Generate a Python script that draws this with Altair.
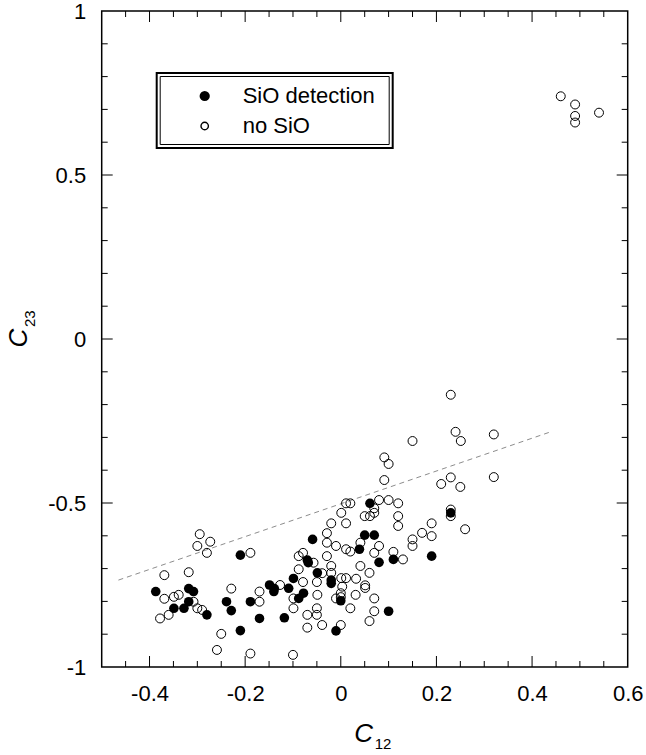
import altair as alt
import pandas as pd

# ---------------- data ----------------
sio_x = [0.23, 0.19, 0.11, 0.08, 0.061, 0.05, 0.07, 0.039, -0.059, -0.07,
         -0.068, -0.049, -0.099, -0.02, -0.02, 0.0, 0.10, -0.01, -0.118, -0.088,
         -0.078, -0.109, -0.387, -0.318, -0.308, -0.318, -0.349, -0.328, -0.28, -0.239,
         -0.229, -0.21, -0.21, -0.189, -0.17, -0.149, -0.139, -0.14]
sio_y = [-0.53, -0.662, -0.672, -0.681, -0.501, -0.598, -0.598, -0.641, -0.611, -0.674,
         -0.682, -0.713, -0.73, -0.735, -0.745, -0.798, -0.83, -0.89, -0.85, -0.791,
         -0.775, -0.76, -0.77, -0.761, -0.77, -0.801, -0.821, -0.821, -0.841, -0.801,
         -0.828, -0.889, -0.659, -0.801, -0.852, -0.75, -0.761, -0.77]

nosio_x = [0.46, 0.49, 0.49, 0.49, 0.54,
           0.23, 0.24, 0.251, 0.32, 0.15, 0.091, 0.10, 0.091, 0.21, 0.23,
           0.25, 0.32, 0.23, 0.23, 0.26, 0.19, 0.19, 0.17, 0.15, 0.15,
           0.13, 0.11, 0.12, 0.12, 0.12, 0.10, 0.08, 0.07, 0.07, 0.061,
           0.05, 0.02, 0.011, 0.001, 0.011, -0.02, -0.029, -0.029, -0.01, 0.011,
           0.02, 0.041, 0.08, 0.07, -0.029, -0.079, -0.088, -0.057, -0.02, 0.041,
           0.06, -0.088, -0.039, -0.02, -0.079, -0.05, 0.001, 0.011, 0.032, 0.051,
           0.051, 0.003, 0.0, 0.0, -0.01, 0.031, 0.07, 0.02, 0.07, 0.06,
           0.0, -0.039, -0.07, -0.07, -0.05, -0.05, -0.099, -0.099, -0.127, -0.10,
           -0.049,
           -0.30, -0.273, -0.28, -0.295, -0.189, -0.369, -0.318, -0.369, -0.349, -0.339,
           -0.308, -0.30, -0.29, -0.378, -0.36, -0.229, -0.25, -0.259, -0.189, -0.17,
           -0.17]
nosio_y = [0.74, 0.715, 0.68, 0.66, 0.69,
           -0.17, -0.283, -0.311, -0.291, -0.311, -0.361, -0.381, -0.43, -0.442, -0.422,
           -0.451, -0.421, -0.52, -0.54, -0.58, -0.562, -0.601, -0.591, -0.611, -0.631,
           -0.672, -0.649, -0.501, -0.54, -0.57, -0.491, -0.491, -0.53, -0.516, -0.54,
           -0.54, -0.501, -0.501, -0.53, -0.562, -0.562, -0.592, -0.621, -0.631, -0.641,
           -0.648, -0.621, -0.631, -0.652, -0.662, -0.652, -0.662, -0.682, -0.692, -0.692,
           -0.713, -0.702, -0.714, -0.713, -0.741, -0.741, -0.729, -0.729, -0.731, -0.751,
           -0.759, -0.755, -0.775, -0.787, -0.791, -0.78, -0.791, -0.821, -0.83, -0.86,
           -0.872, -0.872, -0.88, -0.841, -0.841, -0.821, -0.821, -0.791, -0.75, -0.963,
           -0.78,
           -0.631, -0.618, -0.652, -0.595, -0.652, -0.72, -0.711, -0.792, -0.786, -0.78,
           -0.801, -0.821, -0.826, -0.852, -0.841, -0.761, -0.899, -0.948, -0.959, -0.77,
           -0.801]

fit_x = [-0.465, 0.435]
fit_y = [-0.735, -0.285]

x_tick_labels = [-0.4, -0.2, 0, 0.2, 0.4, 0.6]
y_tick_labels = [-1, -0.5, 0, 0.5, 1]
x_major = [-0.4, -0.2, 0, 0.2, 0.4]
x_minor = [-0.45, -0.35, -0.3, -0.25, -0.15, -0.1, -0.05, 0.05, 0.1, 0.15,
           0.25, 0.3, 0.35, 0.45, 0.5, 0.55]
y_major = [-0.5, 0, 0.5]
y_minor = [-0.9, -0.8, -0.7, -0.6, -0.4, -0.3, -0.2, -0.1, 0.1, 0.2,
           0.3, 0.4, 0.6, 0.7, 0.8, 0.9]
legend_labels = ["SiO detection", "no SiO"]

# ---------------- layout ----------------
W, H = 526, 656
FONT = "Liberation Sans"
MAJ, MIN = 11, 6

xs = alt.Scale(domain=[-0.5, 0.6], nice=False, zero=False)
ys = alt.Scale(domain=[-1, 1], nice=False, zero=False)

xaxis = alt.Axis(values=x_tick_labels, labelExpr="'' + datum.value", title="",
                 domain=False, ticks=False, grid=False, labelFont=FONT,
                 labelFontSize=22, labelColor="black", labelPadding=16,
                 labelFlush=False)
yaxis = alt.Axis(values=y_tick_labels, labelExpr="'' + datum.value", title="",
                 domain=False, ticks=False, grid=False, labelFont=FONT,
                 labelFontSize=22, labelColor="black", labelPadding=16,
                 labelFlush=False)

X = lambda: alt.X("x:Q", scale=xs, axis=xaxis)
Y = lambda: alt.Y("y:Q", scale=ys, axis=yaxis)

df_sio = pd.DataFrame({"x": sio_x, "y": sio_y})
df_no = pd.DataFrame({"x": nosio_x, "y": nosio_y})
df_fit = pd.DataFrame({"x": fit_x, "y": fit_y})
one = pd.DataFrame({"k": [0]})

layers = []

# fit line
layers.append(alt.Chart(df_fit).mark_line(color="#6e6e6e", strokeWidth=0.8,
                                          strokeDash=[5, 4]).encode(x=X(), y=Y()))
# points
layers.append(alt.Chart(df_no).mark_point(shape="circle", filled=False, color="black",
                                          size=80, strokeWidth=1, opacity=1).encode(x=X(), y=Y()))
layers.append(alt.Chart(df_sio).mark_point(shape="circle", filled=True, color="black",
                                           size=92, opacity=1).encode(x=X(), y=Y()))

# ticks (inside, on all four sides)
def xticks(vals, L):
    d = pd.DataFrame({"x": vals})
    b = alt.Chart(d).mark_rule(color="black", strokeWidth=1).encode(
        x=X(), y=alt.value(H), y2=alt.value(H - L))
    t = alt.Chart(d).mark_rule(color="black", strokeWidth=1).encode(
        x=X(), y=alt.value(0), y2=alt.value(L))
    return [b, t]

def yticks(vals, L):
    d = pd.DataFrame({"y": vals})
    l = alt.Chart(d).mark_rule(color="black", strokeWidth=1).encode(
        y=Y(), x=alt.value(0), x2=alt.value(L))
    r = alt.Chart(d).mark_rule(color="black", strokeWidth=1).encode(
        y=Y(), x=alt.value(W), x2=alt.value(W - L))
    return [l, r]

layers += xticks(x_major, MAJ) + xticks(x_minor, MIN)
layers += yticks(y_major, MAJ) + yticks(y_minor, MIN)

# legend box (double border)
layers.append(alt.Chart(one).mark_rect(filled=False, stroke="black", strokeWidth=2).encode(
    x=alt.value(55), x2=alt.value(291), y=alt.value(62), y2=alt.value(137)))
layers.append(alt.Chart(one).mark_rect(filled=False, stroke="black", strokeWidth=1).encode(
    x=alt.value(58.5), x2=alt.value(287.5), y=alt.value(65.5), y2=alt.value(133.5)))
layers.append(alt.Chart(one).mark_point(shape="circle", filled=True, color="black",
                                        size=105, opacity=1).encode(
    x=alt.value(103), y=alt.value(85)))
layers.append(alt.Chart(one).mark_point(shape="circle", filled=False, color="black",
                                        size=55, strokeWidth=1.4, opacity=1).encode(
    x=alt.value(103), y=alt.value(115)))
layers.append(alt.Chart(one).mark_text(text=legend_labels[0], font=FONT, fontSize=22,
                                       align="left", baseline="middle", color="black").encode(
    x=alt.value(141), y=alt.value(85)))
layers.append(alt.Chart(one).mark_text(text=legend_labels[1], font=FONT, fontSize=22,
                                       align="left", baseline="middle", color="black").encode(
    x=alt.value(141), y=alt.value(115)))

# axis titles with subscripts
layers.append(alt.Chart(one).mark_text(text="C", font=FONT, fontSize=26, fontStyle="italic",
                                       align="center", baseline="middle", color="black").encode(
    x=alt.value(262), y=alt.value(723)))
layers.append(alt.Chart(one).mark_text(text="12", font=FONT, fontSize=15,
                                       align="left", baseline="middle", color="black").encode(
    x=alt.value(273), y=alt.value(733)))
layers.append(alt.Chart(one).mark_text(text="C", font=FONT, fontSize=26, fontStyle="italic",
                                       angle=270, align="center", baseline="middle",
                                       color="black").encode(
    x=alt.value(-83), y=alt.value(327)))
layers.append(alt.Chart(one).mark_text(text="23", font=FONT, fontSize=15, angle=270,
                                       align="left", baseline="middle", color="black").encode(
    x=alt.value(-72), y=alt.value(316)))

chart = alt.layer(*layers).properties(
    width=W, height=H,
    autosize=alt.AutoSizeParams(type="none"),
    padding={"left": 101.7, "top": 11, "right": 18.3, "bottom": 88},
    background="white",
).configure_view(stroke="black", strokeWidth=1.5)

chart.save("out.html", embed_options={"renderer": "svg", "actions": False})
